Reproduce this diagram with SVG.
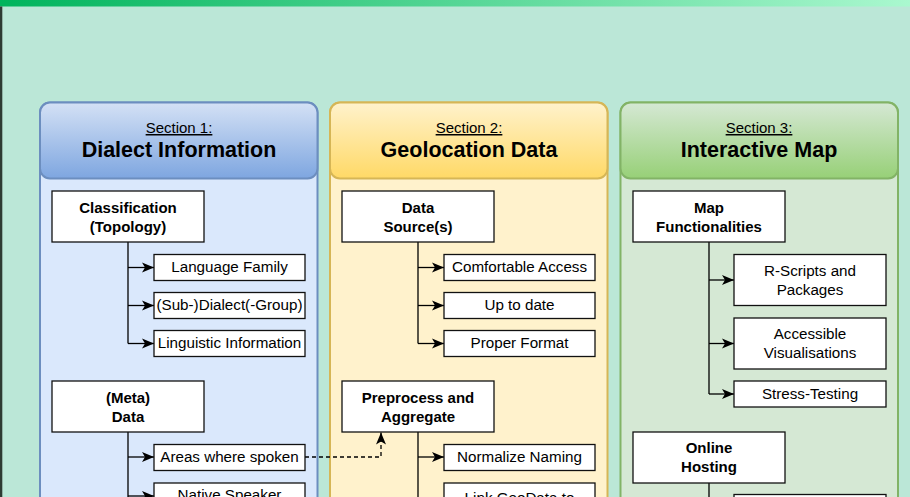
<svg xmlns="http://www.w3.org/2000/svg" width="910" height="497" viewBox="0 0 910 497">
<defs>
<linearGradient id="topbar" x1="0" y1="0" x2="1" y2="0"><stop offset="0" stop-color="#00b45c"/><stop offset="1" stop-color="#aaf8cf"/></linearGradient>
<linearGradient id="hdr1" x1="0" y1="0" x2="0" y2="1"><stop offset="0" stop-color="#d4e1f5"/><stop offset="1" stop-color="#7ea6e0"/></linearGradient>
<linearGradient id="hdr2" x1="0" y1="0" x2="0" y2="1"><stop offset="0" stop-color="#fff2cc"/><stop offset="1" stop-color="#ffd966"/></linearGradient>
<linearGradient id="hdr3" x1="0" y1="0" x2="0" y2="1"><stop offset="0" stop-color="#d5e8d4"/><stop offset="1" stop-color="#97d077"/></linearGradient>
<marker id="arr" markerUnits="userSpaceOnUse" markerWidth="14" markerHeight="12" refX="13" refY="6" orient="auto"><path d="M1,1 L13,6 L1,11 L4,6 Z" fill="#000"/></marker>
</defs>
<style>
text{font-family:"Liberation Sans",Arial,sans-serif;fill:#000;text-anchor:middle}
.sec{font-size:15px;text-decoration:underline}
.ttl{font-size:21.5px;font-weight:bold}
.bn{font-size:15px;font-weight:bold}
.cn{font-size:15.2px}
.box{fill:#fff;stroke:#111;stroke-width:1.3}
.ln{fill:none;stroke:#000;stroke-width:1.3}
.ar{fill:none;stroke:#000;stroke-width:1.3;marker-end:url(#arr)}
.dash{fill:none;stroke:#000;stroke-width:1.3;stroke-dasharray:4 3;marker-end:url(#arr)}
</style>
<rect x="0" y="0" width="910" height="497" fill="#bbe7d7"/>
<rect x="0" y="0" width="910" height="6.5" fill="url(#topbar)"/>
<rect x="0" y="6.5" width="2.3" height="491" fill="#2e3b33"/>

<g id="section1">
<rect x="40" y="102.5" width="277.5" height="430" rx="10" fill="#dae8fc" stroke="#6c8ebf" stroke-width="2"/>
<rect x="40" y="102.5" width="277.5" height="76" rx="10" fill="url(#hdr1)" stroke="#6c8ebf" stroke-width="2"/>
<text class="sec" x="179" y="133">Section 1:</text>
<text class="ttl" x="179" y="157">Dialect Information</text>
</g>
<g id="section2">
<rect x="330" y="102.5" width="277.5" height="430" rx="10" fill="#fff2cc" stroke="#d6b656" stroke-width="2"/>
<rect x="330" y="102.5" width="277.5" height="76" rx="10" fill="url(#hdr2)" stroke="#d6b656" stroke-width="2"/>
<text class="sec" x="469" y="133">Section 2:</text>
<text class="ttl" x="469" y="157">Geolocation Data</text>
</g>
<g id="section3">
<rect x="620.5" y="102.5" width="277.5" height="430" rx="10" fill="#d5e8d4" stroke="#82b366" stroke-width="2"/>
<rect x="620.5" y="102.5" width="277.5" height="76" rx="10" fill="url(#hdr3)" stroke="#82b366" stroke-width="2"/>
<text class="sec" x="759" y="133">Section 3:</text>
<text class="ttl" x="759" y="157">Interactive Map</text>
</g>

<g id="connectors">
<path class="ln" d="M128,242 V343.5"/>
<path class="ar" d="M128,267.5 H154"/>
<path class="ar" d="M128,305.5 H154"/>
<path class="ar" d="M128,343.5 H154"/>
<path class="ln" d="M128,432 V497"/>
<path class="ar" d="M128,457 H154"/>
<path class="ar" d="M128,496 H154"/>
<path class="ln" d="M418,242 V343.5"/>
<path class="ar" d="M418,267.5 H444"/>
<path class="ar" d="M418,305.5 H444"/>
<path class="ar" d="M418,343.5 H444"/>
<path class="ln" d="M418,432 V497"/>
<path class="ar" d="M418,457 H444"/>
<path class="ar" d="M418,508.5 H444"/>
<path class="ln" d="M709,242 V394"/>
<path class="ar" d="M709,280 H734"/>
<path class="ar" d="M709,343.5 H734"/>
<path class="ar" d="M709,394 H734"/>
<path class="ln" d="M709,483 V497"/>
<path class="dash" d="M305,457 H381 V432.5"/>
</g>

<g id="n-classification"><rect class="box" x="52" y="191" width="152" height="51"/><text class="bn" x="128" y="213">Classification</text><text class="bn" x="128" y="232">(Topology)</text></g>
<g id="n-language-family"><rect class="box" x="154" y="254.5" width="151" height="26"/><text class="cn" x="229.5" y="272">Language Family</text></g>
<g id="n-subdialect"><rect class="box" x="154" y="292.5" width="151" height="26"/><text class="cn" x="229.5" y="310">(Sub-)Dialect(-Group)</text></g>
<g id="n-linguistic"><rect class="box" x="154" y="330.5" width="151" height="26"/><text class="cn" x="229.5" y="348">Linguistic Information</text></g>
<g id="n-metadata"><rect class="box" x="52" y="381" width="152" height="51"/><text class="bn" x="128" y="403">(Meta)</text><text class="bn" x="128" y="422">Data</text></g>
<g id="n-areas"><rect class="box" x="154" y="444.5" width="151" height="26"/><text class="cn" x="229.5" y="462">Areas where spoken</text></g>
<g id="n-native"><rect class="box" x="154" y="483" width="151" height="26"/><text class="cn" x="229.5" y="500">Native Speaker</text></g>

<g id="n-datasource"><rect class="box" x="342" y="191" width="152" height="51"/><text class="bn" x="418" y="213">Data</text><text class="bn" x="418" y="232">Source(s)</text></g>
<g id="n-comfortable"><rect class="box" x="444" y="254.5" width="151" height="26"/><text class="cn" x="519.5" y="272">Comfortable Access</text></g>
<g id="n-uptodate"><rect class="box" x="444" y="292.5" width="151" height="26"/><text class="cn" x="519.5" y="310">Up to date</text></g>
<g id="n-format"><rect class="box" x="444" y="330.5" width="151" height="26"/><text class="cn" x="519.5" y="348">Proper Format</text></g>
<g id="n-preprocess"><rect class="box" x="342" y="381" width="152" height="51"/><text class="bn" x="418" y="403">Preprocess and</text><text class="bn" x="418" y="422">Aggregate</text></g>
<g id="n-normalize"><rect class="box" x="444" y="444.5" width="151" height="26"/><text class="cn" x="519.5" y="462">Normalize Naming</text></g>
<g id="n-link"><rect class="box" x="444" y="483" width="151" height="51"/><text class="cn" x="519.5" y="503">Link GeoData to</text></g>

<g id="n-mapfunc"><rect class="box" x="633" y="191" width="152" height="51"/><text class="bn" x="709" y="213">Map</text><text class="bn" x="709" y="232">Functionalities</text></g>
<g id="n-rscripts"><rect class="box" x="734" y="254.5" width="152" height="51"/><text class="cn" x="810" y="276">R-Scripts and</text><text class="cn" x="810" y="295">Packages</text></g>
<g id="n-accessible"><rect class="box" x="734" y="318" width="152" height="51"/><text class="cn" x="810" y="339">Accessible</text><text class="cn" x="810" y="358">Visualisations</text></g>
<g id="n-stress"><rect class="box" x="734" y="381" width="152" height="26"/><text class="cn" x="810" y="399">Stress-Testing</text></g>
<g id="n-hosting"><rect class="box" x="633" y="432" width="152" height="51"/><text class="bn" x="709" y="453">Online</text><text class="bn" x="709" y="472">Hosting</text></g>
<g id="n-hosting-child"><rect class="box" x="734" y="494.5" width="152" height="26"/></g>
</svg>
